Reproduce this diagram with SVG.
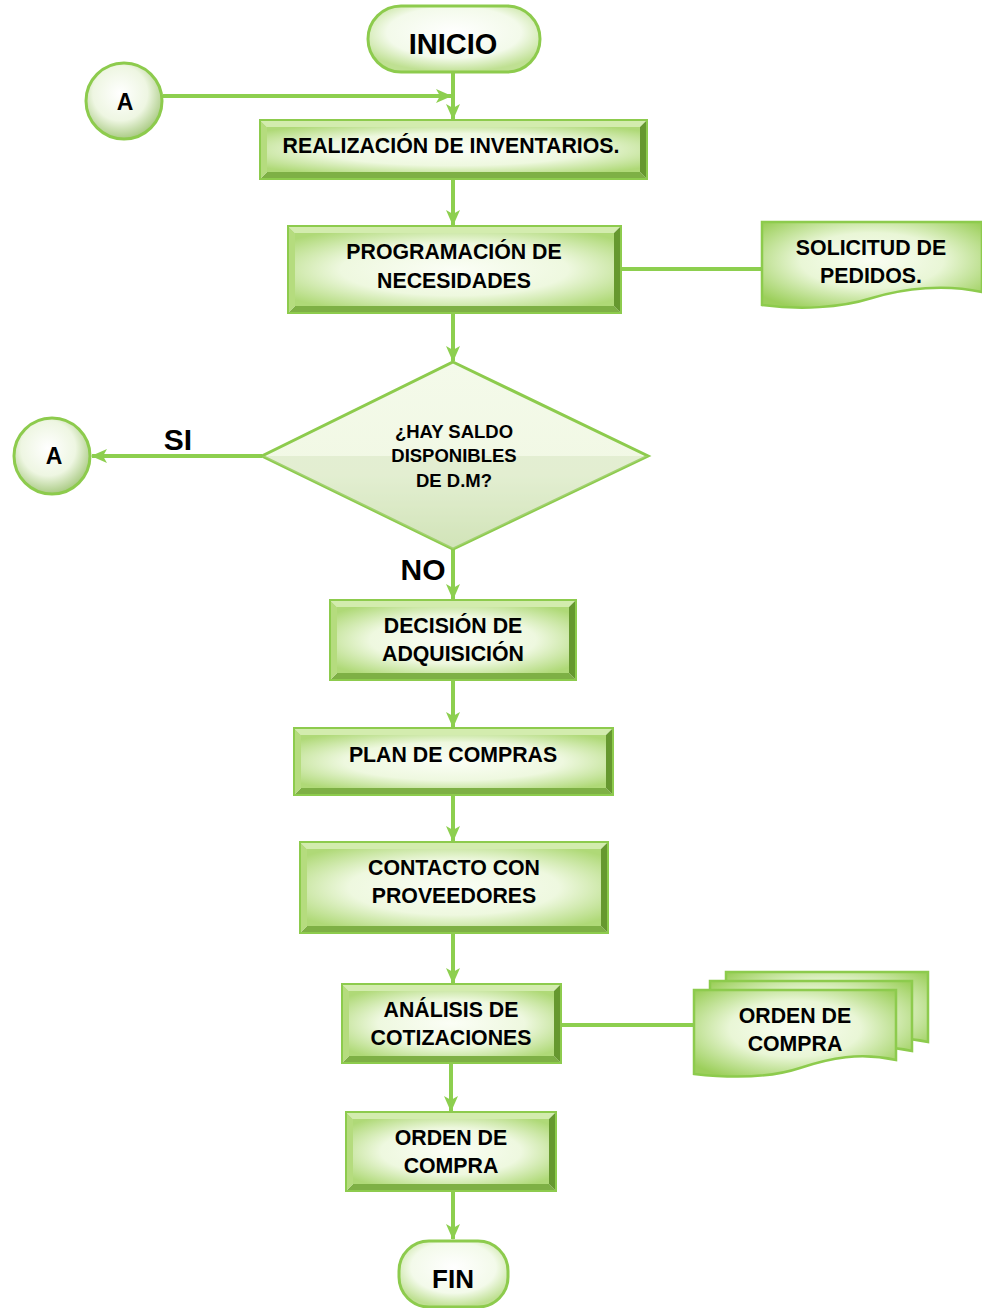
<svg xmlns="http://www.w3.org/2000/svg" width="982" height="1308" viewBox="0 0 982 1308">
<defs>
<style>
.bt{fill:#d3ecae}.bl{fill:#b5dc7e}.br{fill:#66982f}.bb{fill:#7eb045}
.face{fill:url(#face)}
.edge{fill:none;stroke:#8dcb4d;stroke-width:2}
.term{fill:url(#termg);stroke:#8dcb4d;stroke-width:3}
.circ{fill:url(#circg);stroke:#8dcb4d;stroke-width:3}
.doc{fill:url(#docg);stroke:#8dcb4d;stroke-width:2.5}
.con{fill:none;stroke:#8dcf4f;stroke-width:4}
.t{font-family:"Liberation Sans",Arial,sans-serif;font-weight:bold;fill:#000;text-anchor:middle}
.bx{font-size:21.3px}
</style>
<radialGradient id="face" cx="50%" cy="50%" r="65%">
<stop offset="0" stop-color="#fbfef6"/><stop offset="0.55" stop-color="#eef8df"/><stop offset="1" stop-color="#afd977"/>
</radialGradient>
<radialGradient id="termg" cx="50%" cy="40%" r="60%">
<stop offset="0" stop-color="#ffffff"/><stop offset="0.65" stop-color="#f3faea"/><stop offset="1" stop-color="#bfe092"/>
</radialGradient>
<radialGradient id="circg" cx="45%" cy="40%" r="60%">
<stop offset="0" stop-color="#ffffff"/><stop offset="0.6" stop-color="#eef6e2"/><stop offset="1" stop-color="#aacb84"/>
</radialGradient>
<linearGradient id="diag" x1="0" y1="0" x2="0" y2="1">
<stop offset="0" stop-color="#f4faea"/><stop offset="0.6" stop-color="#f1f8e4"/><stop offset="1" stop-color="#d6e8bd"/>
</linearGradient>
<radialGradient id="docg" cx="50%" cy="45%" r="65%">
<stop offset="0" stop-color="#fafef3"/><stop offset="0.5" stop-color="#e9f6d6"/><stop offset="1" stop-color="#9ccf5b"/>
</radialGradient>
<marker id="ar" markerUnits="userSpaceOnUse" viewBox="0 0 16 14" markerWidth="16" markerHeight="14" refX="15" refY="7" orient="auto">
<path d="M0,0 L16,7 L0,14 L4,7 Z" fill="#8dcf4f"/>
</marker>
</defs>

<g id="connectors">
<line class="con" x1="453" y1="72" x2="453" y2="119" marker-end="url(#ar)"/>
<line class="con" x1="163" y1="96" x2="451" y2="96" marker-end="url(#ar)"/>
<line class="con" x1="453" y1="179" x2="453" y2="225" marker-end="url(#ar)"/>
<line class="con" x1="621" y1="269" x2="762" y2="269"/>
<line class="con" x1="453" y1="313" x2="453" y2="361" marker-end="url(#ar)"/>
<line class="con" x1="262" y1="456" x2="92" y2="456" marker-end="url(#ar)"/>
<line class="con" x1="453" y1="549" x2="453" y2="599" marker-end="url(#ar)"/>
<line class="con" x1="453" y1="680" x2="453" y2="727" marker-end="url(#ar)"/>
<line class="con" x1="453" y1="795" x2="453" y2="841" marker-end="url(#ar)"/>
<line class="con" x1="453" y1="933" x2="453" y2="983" marker-end="url(#ar)"/>
<line class="con" x1="561" y1="1025" x2="694" y2="1025"/>
<line class="con" x1="451" y1="1063" x2="451" y2="1111" marker-end="url(#ar)"/>
<line class="con" x1="453" y1="1191" x2="453" y2="1239" marker-end="url(#ar)"/>
<text class="t" x="178" y="450" font-size="30">SI</text>
<text class="t" x="423" y="580" font-size="30">NO</text>
</g>

<g id="inicio">
<rect class="term" x="368" y="6" width="172" height="66" rx="33"/>
<text class="t" x="453" y="54" font-size="29">INICIO</text>
</g>

<g id="conectorA1">
<circle class="circ" cx="124" cy="101" r="38"/>
<text class="t" x="125" y="110" font-size="23">A</text>
</g>

<g id="realizacion">
<rect class="face" x="267" y="127" width="373" height="45"/>
<polygon class="bt" points="260,120 647,120 640,127 267,127"/>
<polygon class="bb" points="260,179 647,179 640,172 267,172"/>
<polygon class="bl" points="260,120 267,127 267,172 260,179"/>
<polygon class="br" points="647,120 640,127 640,172 647,179"/>
<rect class="edge" x="260" y="120" width="387" height="59"/>
<text class="t bx" x="451" y="153">REALIZACIÓN DE INVENTARIOS.</text>
</g>

<g id="programacion">
<rect class="face" x="295" y="233" width="319" height="73"/>
<polygon class="bt" points="288,226 621,226 614,233 295,233"/>
<polygon class="bb" points="288,313 621,313 614,306 295,306"/>
<polygon class="bl" points="288,226 295,233 295,306 288,313"/>
<polygon class="br" points="621,226 614,233 614,306 621,313"/>
<rect class="edge" x="288" y="226" width="333" height="87"/>
<text class="t bx" x="454" y="259">PROGRAMACIÓN DE</text>
<text class="t bx" x="454" y="288">NECESIDADES</text>
</g>

<g id="solicitud">
<path class="doc" d="M762,222 H982 V292 C945,284 905,288 872,298 C840,308 800,310 762,305 Z"/>
<text class="t bx" x="871" y="255">SOLICITUD DE</text>
<text class="t bx" x="871" y="283">PEDIDOS.</text>
</g>

<g id="decision-saldo">
<polygon points="453,362 648,456 453,549 262,456" fill="url(#diag)" stroke="#8dcb4d" stroke-width="3"/>
<polygon points="262,456 648,456 453,549" fill="#c9dcb0" opacity="0.35"/>
<text class="t" x="454" y="438" font-size="18.5">¿HAY SALDO</text>
<text class="t" x="454" y="462" font-size="18.5">DISPONIBLES</text>
<text class="t" x="454" y="487" font-size="18.5">DE D.M?</text>
</g>

<g id="conectorA2">
<circle class="circ" cx="52" cy="456" r="38"/>
<text class="t" x="54" y="464" font-size="23">A</text>
</g>

<g id="adquisicion">
<rect class="face" x="337" y="607" width="232" height="66"/>
<polygon class="bt" points="330,600 576,600 569,607 337,607"/>
<polygon class="bb" points="330,680 576,680 569,673 337,673"/>
<polygon class="bl" points="330,600 337,607 337,673 330,680"/>
<polygon class="br" points="576,600 569,607 569,673 576,680"/>
<rect class="edge" x="330" y="600" width="246" height="80"/>
<text class="t bx" x="453" y="633">DECISIÓN DE</text>
<text class="t bx" x="453" y="661">ADQUISICIÓN</text>
</g>

<g id="plan">
<rect class="face" x="301" y="735" width="305" height="53"/>
<polygon class="bt" points="294,728 613,728 606,735 301,735"/>
<polygon class="bb" points="294,795 613,795 606,788 301,788"/>
<polygon class="bl" points="294,728 301,735 301,788 294,795"/>
<polygon class="br" points="613,728 606,735 606,788 613,795"/>
<rect class="edge" x="294" y="728" width="319" height="67"/>
<text class="t bx" x="453" y="762">PLAN DE COMPRAS</text>
</g>

<g id="contacto">
<rect class="face" x="307" y="849" width="294" height="77"/>
<polygon class="bt" points="300,842 608,842 601,849 307,849"/>
<polygon class="bb" points="300,933 608,933 601,926 307,926"/>
<polygon class="bl" points="300,842 307,849 307,926 300,933"/>
<polygon class="br" points="608,842 601,849 601,926 608,933"/>
<rect class="edge" x="300" y="842" width="308" height="91"/>
<text class="t bx" x="454" y="875">CONTACTO CON</text>
<text class="t bx" x="454" y="903">PROVEEDORES</text>
</g>

<g id="analisis">
<rect class="face" x="349" y="991" width="205" height="65"/>
<polygon class="bt" points="342,984 561,984 554,991 349,991"/>
<polygon class="bb" points="342,1063 561,1063 554,1056 349,1056"/>
<polygon class="bl" points="342,984 349,991 349,1056 342,1063"/>
<polygon class="br" points="561,984 554,991 554,1056 561,1063"/>
<rect class="edge" x="342" y="984" width="219" height="79"/>
<text class="t bx" x="451" y="1017">ANÁLISIS DE</text>
<text class="t bx" x="451" y="1045">COTIZACIONES</text>
</g>

<g id="orden-documentos">
<path class="doc" d="M726,972 H928 V1042 C892,1034 862,1040 832,1050 C802,1060 762,1060 726,1056 Z"/>
<path class="doc" d="M710,981 H912 V1051 C876,1043 846,1049 816,1059 C786,1069 746,1069 710,1065 Z"/>
<path class="doc" d="M694,990 H896 V1060 C860,1052 830,1058 800,1068 C770,1078 730,1078 694,1074 Z"/>
<text class="t bx" x="795" y="1023">ORDEN DE</text>
<text class="t bx" x="795" y="1051">COMPRA</text>
</g>

<g id="orden">
<rect class="face" x="353" y="1119" width="196" height="65"/>
<polygon class="bt" points="346,1112 556,1112 549,1119 353,1119"/>
<polygon class="bb" points="346,1191 556,1191 549,1184 353,1184"/>
<polygon class="bl" points="346,1112 353,1119 353,1184 346,1191"/>
<polygon class="br" points="556,1112 549,1119 549,1184 556,1191"/>
<rect class="edge" x="346" y="1112" width="210" height="79"/>
<text class="t bx" x="451" y="1145">ORDEN DE</text>
<text class="t bx" x="451" y="1173">COMPRA</text>
</g>

<g id="fin">
<rect class="term" x="399" y="1241" width="109" height="66" rx="30"/>
<text class="t" x="453" y="1288" font-size="26">FIN</text>
</g>
</svg>
